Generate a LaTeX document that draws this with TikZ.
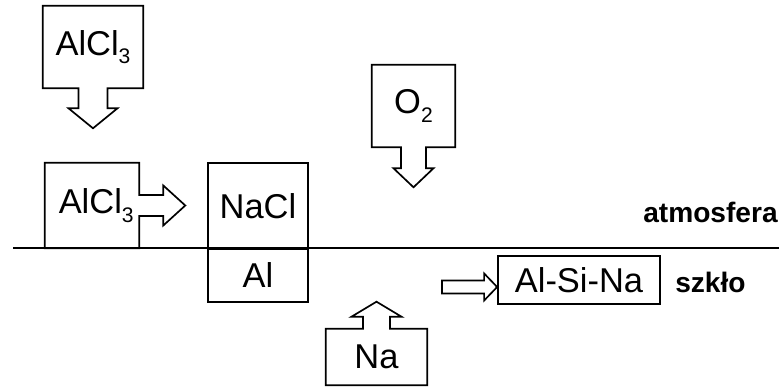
\documentclass[tikz,border=0pt]{standalone}
\usepackage{fontspec}
\setmainfont{Liberation Sans}
\newcommand\chemsub[1]{\raisebox{-6pt}{\fontsize{15}{15}\selectfont #1}}
\tikzset{
  lbl/.style={font=\fontsize{24.5}{26}\selectfont, inner sep=0pt},
  box/.style={lbl, draw, line width=1.2pt},
  zone/.style={font=\bfseries\fontsize{20}{22}\selectfont, inner sep=0pt},
  outline/.style={draw, line width=1.2pt, line join=miter},
}
\begin{document}
\begin{tikzpicture}[x=0.025cm, y=-0.025cm]
    \useasboundingbox (0,0) rectangle (779,392);
    % surface between gas and glass
    \draw[line width=1.6pt] (13,248) -- (779,248);
    \node[lbl, minimum width=2.5cm, minimum height=2.05cm] (gas) at (93,47) {AlCl\chemsub{3}};
    \node[lbl, minimum width=2.35cm, minimum height=2.125cm] (ads) at (92,205.5) {\hspace{6pt}AlCl\chemsub{3}};
    \node[box, minimum width=2.5cm, minimum height=2.15cm] (nacl) at (258,206) {NaCl};
    \node[box, minimum width=2.5cm, minimum height=1.325cm] (al) at (258,275.5) {Al};
    \node[lbl, minimum width=2.075cm, minimum height=2.05cm] (oxy) at (413.5,106) {O\chemsub{2}};
    \node[lbl, minimum width=2.525cm, minimum height=1.4cm] (na) at (376.5,357) {Na};
    \node[box, minimum width=4.05cm, minimum height=1.2cm] (prod) at (579,280) {Al-Si-Na};
    \node[zone, anchor=base west] (atm) at (643,223) {atmosfera};
    \node[zone, anchor=base west] (glass) at (675,293) {szkło};
    % boxes with block arrows
    \draw[outline] (gas.south west) -- (gas.north west) -- (gas.north east) -- (gas.south east)
        -- ([shift={(14.5,0)}]gas.south) -- ++(0,20) -- ++(10,0) -- ([shift={(0,40)}]gas.south)
        -- ++(-24.5,-20) -- ++(10,0) -- ([shift={(-14.5,0)}]gas.south) -- cycle;
    \draw[outline] (ads.south east) -- ([shift={(0,10.5)}]ads.east) -- ++(24,0) -- ++(0,9.5)
        -- ([shift={(46,0)}]ads.east) -- ++(-22,-20) -- ++(0,9.5) -- ([shift={(0,-10.5)}]ads.east)
        -- (ads.north east) -- (ads.north west) -- (ads.south west) -- cycle;
    \draw[outline] (oxy.south west) -- (oxy.north west) -- (oxy.north east) -- (oxy.south east)
        -- ([shift={(12.5,0)}]oxy.south) -- ++(0,21) -- ++(7.5,0) -- ([shift={(0,40)}]oxy.south)
        -- ++(-20,-19) -- ++(7.5,0) -- ([shift={(-12.5,0)}]oxy.south) -- cycle;
    \draw[outline] (na.north west) -- ([shift={(-13.5,0)}]na.north) -- ++(0,-12) -- ++(-11.5,0)
        -- ([shift={(0,-27)}]na.north) -- ++(25,15) -- ++(-11.5,0) -- ([shift={(13.5,0)}]na.north)
        -- (na.north east) -- (na.south east) -- (na.south west) -- cycle;
    % hollow arrow into the glass
    \coordinate (tail) at (442,287);
    \coordinate (tip) at ([shift={(0,7)}]prod.west);
    \draw[outline] ([shift={(0,-6.5)}]tail) -- ([shift={(-13,-6.5)}]tip) -- ++(0,-7) -- (tip)
        -- ++(-13,13.5) -- ++(0,-7) -- ([shift={(0,6.5)}]tail) -- cycle;
\end{tikzpicture}
\end{document}
